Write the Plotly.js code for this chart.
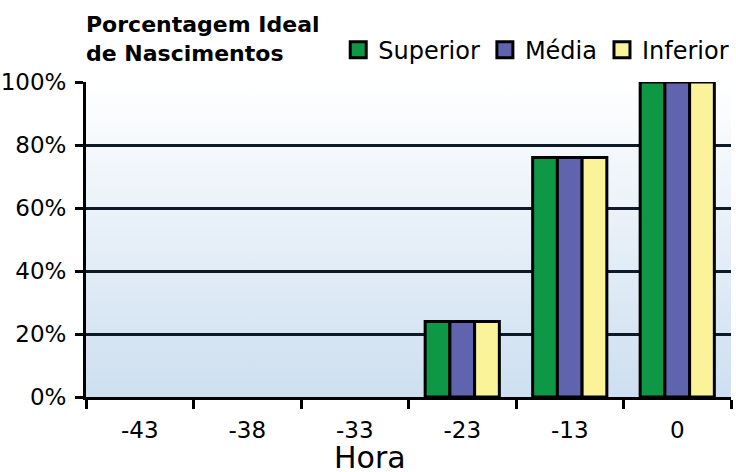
<!DOCTYPE html>
<html>
<head>
<meta charset="utf-8">
<script src="https://cdn.plot.ly/plotly-3.0.1.min.js"></script>
<style>html,body{margin:0;padding:0;background:#fff;}#chart{width:736px;height:472px;}</style>
</head>
<body>
<div id="chart"></div>
<script>
const categories = ['-43', '-38', '-33', '-23', '-13', '0'];
const superior = [0, 0, 0, 0.24, 0.76, 1.00];
const media    = [0, 0, 0, 0.24, 0.76, 1.00];
const inferior = [0, 0, 0, 0.24, 0.76, 1.00];
const seriesNames = ['Superior', 'Média', 'Inferior'];
const seriesColors = ['#0e9846', '#6063ad', '#fbf39a'];
const yTickVals = [0, 0.2, 0.4, 0.6, 0.8, 1.0];
const yTickText = ['0%', '20%', '40%', '60%', '80%', '100%'];

const FONT = 'DejaVu Sans, sans-serif';
const seriesValues = [superior, media, inferior];
const traces = [];
seriesValues.forEach((vals, i) => {
  traces.push({
    type: 'bar',
    x: categories,
    y: vals,
    name: seriesNames[i],
    showlegend: false,
    marker: {color: seriesColors[i], line: {color: '#000', width: vals.map(v => v > 0 ? 3 : 0)}},
    hoverinfo: 'skip'
  });
});
// legend entries (square swatches, no data of their own)
seriesValues.forEach((vals, i) => {
  traces.push({
    type: 'scatter',
    mode: 'markers',
    x: [categories[0]],
    y: [null],
    name: seriesNames[i],
    showlegend: true,
    marker: {symbol: 'square', size: 16, color: seriesColors[i], line: {color: '#000', width: 3}},
    hoverinfo: 'skip'
  });
});

const gradSvg = '<svg xmlns="http://www.w3.org/2000/svg" width="10" height="100" preserveAspectRatio="none"><defs><linearGradient id="g" x1="0" y1="0" x2="0" y2="1"><stop offset="0" stop-color="#ffffff"/><stop offset="1" stop-color="#cddff0"/></linearGradient></defs><rect width="10" height="100" fill="url(#g)"/></svg>';
const gradUri = 'data:image/svg+xml;base64,' + btoa(gradSvg);

const layout = {
  width: 736, height: 472,
  margin: {l: 86, r: 2, t: 82, b: 75},
  paper_bgcolor: '#ffffff',
  plot_bgcolor: 'rgba(0,0,0,0)',
  font: {family: FONT, size: 22, color: '#000'},
  barmode: 'group',
  bargap: 0.31,
  bargroupgap: 0,
  showlegend: true,
  legend: {
    orientation: 'h', x: 1.005, xanchor: 'right', y: 1.03, yanchor: 'bottom',
    font: {family: FONT, size: 24, color: '#000'},
    traceorder: 'normal', itemwidth: 30, bgcolor: 'rgba(0,0,0,0)',
    tracegroupgap: 0
  },
  xaxis: {
    type: 'category',
    tickson: 'boundaries',
    ticks: 'outside', ticklen: 9, tickwidth: 3, tickcolor: '#000',
    showline: true, linecolor: '#000', linewidth: 3,
    showgrid: false, zeroline: false,
    ticklabelstandoff: 10,
    tickfont: {family: FONT, size: 23, color: '#000'},
    fixedrange: true
  },
  yaxis: {
    range: [0, 1], tickvals: yTickVals, ticktext: yTickText,
    ticks: 'outside', ticklen: 8, tickwidth: 3, tickcolor: '#000',
    showline: true, linecolor: '#000', linewidth: 3,
    showgrid: true, gridcolor: '#0d1b28', gridwidth: 3,
    zeroline: false,
    ticklabelstandoff: 4,
    tickfont: {family: FONT, size: 23, color: '#000'},
    fixedrange: true
  },
  images: [{
    source: gradUri, xref: 'paper', yref: 'paper', x: 0, y: 1,
    sizex: 1, sizey: 1, sizing: 'stretch', layer: 'below',
    xanchor: 'left', yanchor: 'top'
  }],
  annotations: [{
    text: '<b>Porcentagem Ideal<br>de Nascimentos</b>', xref: 'paper', yref: 'paper',
    x: 0, y: 1, xanchor: 'left', yanchor: 'bottom', align: 'left',
    xshift: -2, yshift: 14,
    showarrow: false, font: {family: FONT, size: 22, color: '#000'}
  }, {
    text: 'Hora', xref: 'paper', yref: 'paper',
    x: (371 - 86) / 648, y: 0, yshift: -41, xanchor: 'center', yanchor: 'top',
    showarrow: false, font: {family: FONT, size: 30, color: '#000'}
  }]
};

Plotly.newPlot('chart', traces, layout, {displayModeBar: false, staticPlot: true});
</script>
</body>
</html>
